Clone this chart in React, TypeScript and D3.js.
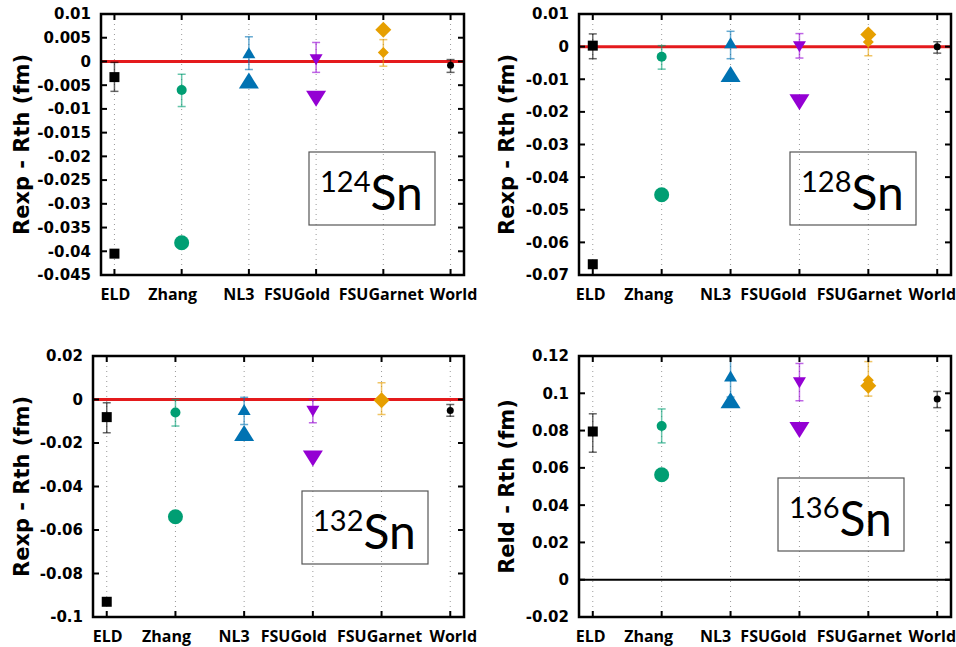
import React from "react";
import * as d3 from "d3";

// ---------- DATA ----------
const categories = ["ELD", "Zhang", "NL3", "FSUGold", "FSUGarnet", "World"];

// 124Sn
const val124 = [-0.0033, -0.006, 0.0017, 0.0005, 0.0019, -0.0008];
const lo124 = [-0.0063, -0.0095, -0.0017, -0.0023, -0.001, -0.0023];
const hi124 = [-0.0002, -0.0027, 0.0052, 0.004, 0.0046, 0.0004];
const big124 = [-0.0405, -0.0382, -0.0042, -0.0077, 0.0067, null];
const ticks124 = [0.01, 0.005, 0, -0.005, -0.01, -0.015, -0.02, -0.025, -0.03, -0.035, -0.04, -0.045];

// 128Sn
const val128 = [0.0003, -0.0031, 0.001, 0.0001, 0.0014, 0.0];
const lo128 = [-0.0037, -0.0069, -0.0037, -0.0035, -0.0028, -0.002];
const hi128 = [0.0039, 0.0003, 0.0047, 0.004, 0.0047, 0.0015];
const big128 = [-0.0667, -0.0454, -0.0086, -0.0168, 0.0037, null];
const ticks128 = [0.01, 0, -0.01, -0.02, -0.03, -0.04, -0.05, -0.06, -0.07];

// 132Sn
const val132 = [-0.0081, -0.006, -0.0048, -0.0052, -0.0003, -0.005];
const lo132 = [-0.0153, -0.0122, -0.0115, -0.0107, -0.0069, -0.0077];
const hi132 = [-0.0015, 0.0, 0.001, 0.0, 0.0077, -0.0023];
const big132 = [-0.093, -0.0539, -0.0158, -0.0268, -0.0003, null];
const ticks132 = [0.02, 0, -0.02, -0.04, -0.06, -0.08, -0.1];

// 136Sn
const val136 = [0.0795, 0.0825, 0.109, 0.106, 0.107, 0.097];
const lo136 = [0.0684, 0.0734, 0.098, 0.096, 0.0985, 0.0923];
const hi136 = [0.089, 0.0916, 0.12, 0.116, 0.117, 0.101];
const big136 = [null, 0.0563, 0.0959, 0.0807, 0.104, null];
const ticks136 = [0.12, 0.1, 0.08, 0.06, 0.04, 0.02, 0, -0.02];

const isotopes = ["124", "128", "132", "136"];
const yTitles = ["Rexp - Rth (fm)", "Rexp - Rth (fm)", "Rexp - Rth (fm)", "Reld - Rth (fm)"];

// ---------- STYLE / LAYOUT ----------
const colors = ["#000000", "#009e73", "#0072b2", "#9400d3", "#e69f00", "#000000"];
const shapes = ["square", "circle", "up", "down", "diamond", "dot"];
const labelShiftLeft = [1, -9, -10, -19, -2, 3];
const labelShiftRight = [-2, -13, -15, -26, -9, -5];

const frames = [
  { l: 101, r: 464, t: 14, b: 275, titleX: 21, box: { x: 309, y: 152 }, zero: "#e41a1c", shift: labelShiftLeft },
  { l: 579, r: 951, t: 14, b: 275, titleX: 506, box: { x: 790, y: 152 }, zero: "#e41a1c", shift: labelShiftRight },
  { l: 93, r: 464, t: 356, b: 617, titleX: 21, box: { x: 302, y: 491 }, zero: "#e41a1c", shift: labelShiftLeft },
  { l: 579, r: 951, t: 356, b: 617, titleX: 506, box: { x: 778, y: 478 }, zero: "#000000", shift: labelShiftRight },
];

const panels = [
  { vals: val124, lo: lo124, hi: hi124, big: big124, ticks: ticks124 },
  { vals: val128, lo: lo128, hi: hi128, big: big128, ticks: ticks128 },
  { vals: val132, lo: lo132, hi: hi132, big: big132, ticks: ticks132 },
  { vals: val136, lo: lo136, hi: hi136, big: big136, ticks: ticks136 },
];

const fmt = (v: number) => {
  const s = String(+v.toFixed(4));
  return s === "-0" ? "0" : s;
};

function Marker({ kind, x, y, big, color }: { kind: string; x: number; y: number; big: boolean; color: string }) {
  if (kind === "square") {
    const s = 10;
    return <rect x={x - s / 2} y={y - s / 2} width={s} height={s} fill={color} />;
  }
  if (kind === "circle") {
    return <circle cx={x} cy={y} r={big ? 7.5 : 5} fill={color} />;
  }
  if (kind === "dot") {
    return <circle cx={x} cy={y} r={3.5} fill={color} />;
  }
  if (kind === "up" || kind === "down") {
    const w = big ? 20 : 13;
    const h = big ? 16 : 11;
    const sgn = kind === "up" ? 1 : -1;
    const p = d3.path();
    p.moveTo(x, y - sgn * h * 0.55);
    p.lineTo(x - w / 2, y + sgn * h * 0.45);
    p.lineTo(x + w / 2, y + sgn * h * 0.45);
    p.closePath();
    return <path d={p.toString()} fill={color} />;
  }
  const d = big ? 8 : 5.5;
  const p = d3.path();
  p.moveTo(x, y - d);
  p.lineTo(x + d, y);
  p.lineTo(x, y + d);
  p.lineTo(x - d, y);
  p.closePath();
  return <path d={p.toString()} fill={color} />;
}

function Panel({ idx }: { idx: number }) {
  const f = frames[idx];
  const pd = panels[idx];
  const yMax = d3.max(pd.ticks) as number;
  const yMin = d3.min(pd.ticks) as number;
  const x = d3.scaleLinear().domain([-0.2, categories.length - 1 + 0.2]).range([f.l, f.r]);
  const y = d3.scaleLinear().domain([yMin, yMax]).range([f.b, f.t]);
  const tickLen = 6;
  return (
    <g>
      {categories.map((c, i) => (
        <line key={"g" + c} x1={x(i)} x2={x(i)} y1={f.t} y2={f.b} stroke="#9a9a9a" strokeWidth={1} strokeDasharray="1,4" />
      ))}
      <rect x={f.box.x} y={f.box.y} width={126} height={73} fill="none" stroke="#555" strokeWidth={1.2} />
      <text x={f.box.x + 11} y={f.box.y + 58} fontFamily="Lato, 'Open Sans', sans-serif" fill="#000">
        <tspan fontSize={29} dy={-18}>{isotopes[idx]}</tspan>
        <tspan fontSize={48} dy={18}>Sn</tspan>
      </text>
      <line x1={f.l} x2={f.r} y1={y(0)} y2={y(0)} stroke={f.zero} strokeWidth={idx === 3 ? 2 : 3} />
      {categories.map((c, i) => {
        const xc = x(i);
        const col = colors[i];
        return (
          <g key={"e" + c} stroke={col} strokeOpacity={0.6} strokeWidth={1.5}>
            <line x1={xc} x2={xc} y1={y(pd.lo[i])} y2={y(pd.hi[i])} />
            <line x1={xc - 4} x2={xc + 4} y1={y(pd.lo[i])} y2={y(pd.lo[i])} />
            <line x1={xc - 4} x2={xc + 4} y1={y(pd.hi[i])} y2={y(pd.hi[i])} />
          </g>
        );
      })}
      {categories.map((c, i) => (
        <Marker key={"s" + c} kind={shapes[i]} x={x(i)} y={y(pd.vals[i])} big={false} color={colors[i]} />
      ))}
      {categories.map((c, i) =>
        pd.big[i] === null ? null : (
          <Marker key={"b" + c} kind={shapes[i]} x={x(i)} y={y(pd.big[i] as number)} big={true} color={colors[i]} />
        )
      )}
      <g stroke="#000" strokeWidth={2}>
        {pd.ticks.map((t) => (
          <g key={"yt" + t}>
            <line x1={f.l} x2={f.l + tickLen} y1={y(t)} y2={y(t)} />
            <line x1={f.r} x2={f.r - tickLen} y1={y(t)} y2={y(t)} />
          </g>
        ))}
        {categories.map((c, i) => (
          <g key={"xt" + c}>
            <line x1={x(i)} x2={x(i)} y1={f.t} y2={f.t + tickLen} />
            <line x1={x(i)} x2={x(i)} y1={f.b} y2={f.b - tickLen} />
          </g>
        ))}
      </g>
      <rect x={f.l} y={f.t} width={f.r - f.l} height={f.b - f.t} fill="none" stroke="#000" strokeWidth={2.5} />
      {pd.ticks.map((t) => (
        <text key={"yl" + t} x={f.l - 10} y={y(t)} dy="0.36em" textAnchor="end" fontFamily="'DejaVu Sans', Verdana, sans-serif" fontWeight="bold" fontSize={15} fill="#000">
          {fmt(t)}
        </text>
      ))}
      {categories.map((c, i) => (
        <text key={"xl" + c} x={x(i) + f.shift[i]} y={f.b + 25} textAnchor="middle" fontFamily="'Open Sans', Lato, sans-serif" fontWeight="bold" fontSize={16} fill="#000">
          {c}
        </text>
      ))}
      <text
        transform={`translate(${f.titleX},${(f.t + f.b) / 2}) rotate(-90)`}
        textAnchor="middle"
        dy="0.36em"
        fontFamily="'DejaVu Sans', Verdana, sans-serif"
        fontWeight="bold"
        fontSize={21}
        fill="#000"
      >
        {yTitles[idx]}
      </text>
    </g>
  );
}

export default function App() {
  return (
    <svg width={956} height={647} style={{ position: "absolute", left: 0, top: 0, background: "#fff" }}>
      <rect x={0} y={0} width={956} height={647} fill="#fff" />
      {frames.map((_, i) => (
        <Panel key={i} idx={i} />
      ))}
    </svg>
  );
}
